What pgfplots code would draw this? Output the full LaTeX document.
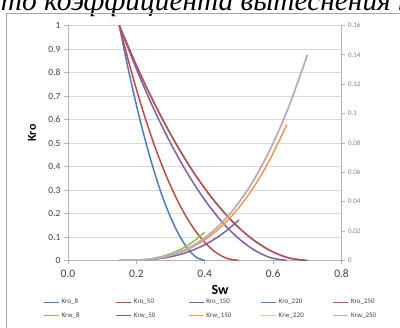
\documentclass[border=0pt]{standalone}
\usepackage{fontspec}
\setmainfont{Carlito}
\newfontfamily\titlefont{Liberation Serif}
\usepackage{pgfplots}
\pgfplotsset{compat=1.18}
\definecolor{axisgray}{HTML}{B3B3B3}
\definecolor{gridgray}{HTML}{D9D9D9}
\definecolor{labelgray}{HTML}{404040}
\definecolor{cKroA}{HTML}{4A7EBB}
\definecolor{cKroB}{HTML}{BE4B48}
\definecolor{cKroC}{HTML}{7D60A0}
\definecolor{cKroD}{HTML}{4F81BD}
\definecolor{cKroE}{HTML}{C0504D}
\definecolor{cKrwA}{HTML}{98B954}
\definecolor{cKrwB}{HTML}{7D60A0}
\definecolor{cKrwC}{HTML}{F79646}
\definecolor{cKrwD}{HTML}{C3D69B}
\definecolor{cKrwE}{HTML}{B4A7C8}
\begin{document}
\begin{tikzpicture}
\useasboundingbox (0bp,0bp) rectangle (400bp,328bp);
\clip (0bp,0bp) rectangle (400bp,328bp);
\node[anchor=base west, inner sep=0pt, font=\titlefont\itshape\fontsize{29.5}{34}\selectfont] at (-14bp,317.5bp) {ото коэффициента вытеснения н};
\draw[draw=gray!70, line width=0.8bp] (6.5bp,-10bp) rectangle (420bp,315bp);
\begin{axis}[
  at={(68bp,67.5bp)}, anchor=south west,
  scale only axis, width=273.5bp, height=235bp,
  xmin=0, xmax=0.8, ymin=0, ymax=1,
  axis x line*=bottom, axis y line*=left,
  axis line style={draw=axisgray, line width=0.8bp},
  xtick={0,0.2,0.4,0.6,0.8},
  ytick={0,0.1,0.2,0.3,0.4,0.5,0.6,0.7,0.8,0.9,1},
  tick style={draw=axisgray, line width=0.8bp},
  tick align=outside, major tick length=4bp,
  ymajorgrids, grid style={draw=gridgray, line width=0.8bp},
  scaled ticks=false,
  /pgf/number format/assume math mode=true,
  xticklabel style={font=\fontsize{11.5}{13}\selectfont, text=labelgray, yshift=-2bp, /pgf/number format/.cd, fixed, fixed zerofill, precision=1},
  yticklabel style={font=\fontsize{9.5}{11}\selectfont, text=labelgray, /pgf/number format/.cd, fixed, precision=1},
  xlabel={\textbf{Sw}}, ylabel={\textbf{Kro}},
  xlabel style={at={(axis description cs:0.556,-0.1255)}, anchor=center, font=\fontsize{14}{16}\selectfont, text=black},
  ylabel style={at={(axis description cs:-0.1316,0.5426)}, anchor=center, rotate=0, font=\fontsize{12}{14}\selectfont, text=black},
  every axis plot/.append style={line width=1.5bp, smooth, tension=0.5, mark=none},
]
\addplot[cKroA] coordinates {(0.15,1) (0.175,0.823) (0.2,0.662) (0.225,0.517) (0.25,0.389) (0.275,0.277) (0.3,0.184) (0.325,0.108) (0.35,0.051) (0.375,0.0141) (0.4,0)};
\addplot[cKroB] coordinates {(0.15,1) (0.185,0.806) (0.22,0.633) (0.255,0.481) (0.29,0.351) (0.325,0.2415) (0.36,0.153) (0.395,0.0848) (0.43,0.0369) (0.465,0.0089) (0.5,0)};
\addplot[cKroC] coordinates {(0.15,1) (0.199,0.819) (0.248,0.654) (0.297,0.508) (0.346,0.379) (0.395,0.268) (0.444,0.175) (0.493,0.1015) (0.542,0.047) (0.591,0.0126) (0.64,0)};
\addplot[cKroD] coordinates {(0.15,1) (0.205,0.814) (0.26,0.647) (0.315,0.499) (0.37,0.369) (0.425,0.259) (0.48,0.1675) (0.535,0.0956) (0.59,0.0434) (0.645,0.0112) (0.70,0)};
\addplot[cKroE] coordinates {(0.15,1) (0.205,0.814) (0.26,0.647) (0.315,0.499) (0.37,0.369) (0.425,0.259) (0.48,0.1675) (0.535,0.0956) (0.59,0.0434) (0.645,0.0112) (0.70,0)};
\end{axis}
\begin{axis}[
  at={(68bp,67.5bp)}, anchor=south west,
  scale only axis, width=273.5bp, height=235bp,
  xmin=0, xmax=0.8, ymin=0, ymax=0.16,
  axis x line=none, axis y line*=right,
  axis line style={draw=axisgray, line width=0.8bp},
  ytick={0,0.02,0.04,0.06,0.08,0.1,0.12,0.14,0.16},
  tick style={draw=axisgray, line width=0.8bp},
  tick align=outside, major tick length=3bp,
  scaled ticks=false,
  /pgf/number format/assume math mode=true,
  yticklabel style={font=\fontsize{7}{8}\selectfont, text=gray, /pgf/number format/.cd, fixed, precision=2},
  every axis plot/.append style={line width=1.5bp, smooth, tension=0.5, mark=none},
  legend columns=5,
  legend style={at={(axis description cs:-0.0914,-0.155)}, anchor=north west, draw=none, fill=none, inner sep=0pt, font=\fontsize{7}{8}\selectfont, text=labelgray, row sep=3bp, /tikz/every even column/.append style={column sep=0pt}},
  legend image code/.code={\draw[#1, line width=1.4bp] (0bp,0bp) -- (15bp,0bp);},
  legend cell align=left,
]
\addlegendimage{cKroA}
\addlegendimage{cKroB}
\addlegendimage{cKroC}
\addlegendimage{cKroD}
\addlegendimage{cKroE}
\addplot[cKrwA] coordinates {(0.15,0) (0.175,0.00003) (0.2,0.00021) (0.225,0.00066) (0.25,0.00148) (0.275,0.00277) (0.3,0.00462) (0.325,0.00711) (0.35,0.01033) (0.375,0.01437) (0.4,0.0193)};
\addplot[cKrwB] coordinates {(0.15,0) (0.185,0.00004) (0.22,0.0003) (0.255,0.00095) (0.29,0.00212) (0.325,0.00396) (0.36,0.0066) (0.395,0.01016) (0.43,0.01478) (0.465,0.02055) (0.5,0.0276)};
\addplot[cKrwC] coordinates {(0.15,0) (0.199,0.00015) (0.248,0.00102) (0.297,0.00318) (0.346,0.00711) (0.395,0.01328) (0.444,0.0221) (0.493,0.0341) (0.542,0.0495) (0.591,0.0689) (0.64,0.0925)};
\addplot[cKrwD] coordinates {(0.15,0) (0.205,0.00022) (0.26,0.00154) (0.315,0.00482) (0.37,0.01077) (0.425,0.0201) (0.48,0.0335) (0.535,0.0516) (0.59,0.075) (0.645,0.1042) (0.7,0.14)};
\addplot[cKrwE] coordinates {(0.15,0) (0.205,0.00022) (0.26,0.00154) (0.315,0.00482) (0.37,0.01077) (0.425,0.0201) (0.48,0.0335) (0.535,0.0516) (0.59,0.075) (0.645,0.1042) (0.7,0.14)};
\legend{\makebox[52bp][l]{Kro\_8}, \makebox[52bp][l]{Kro\_50}, \makebox[52bp][l]{Kro\_150}, \makebox[52bp][l]{Kro\_220}, \makebox[52bp][l]{Kro\_250}, \makebox[52bp][l]{Krw\_8}, \makebox[52bp][l]{Krw\_50}, \makebox[52bp][l]{Krw\_150}, \makebox[52bp][l]{Krw\_220}, \makebox[52bp][l]{Krw\_250}}
\end{axis}
\end{tikzpicture}
\end{document}
